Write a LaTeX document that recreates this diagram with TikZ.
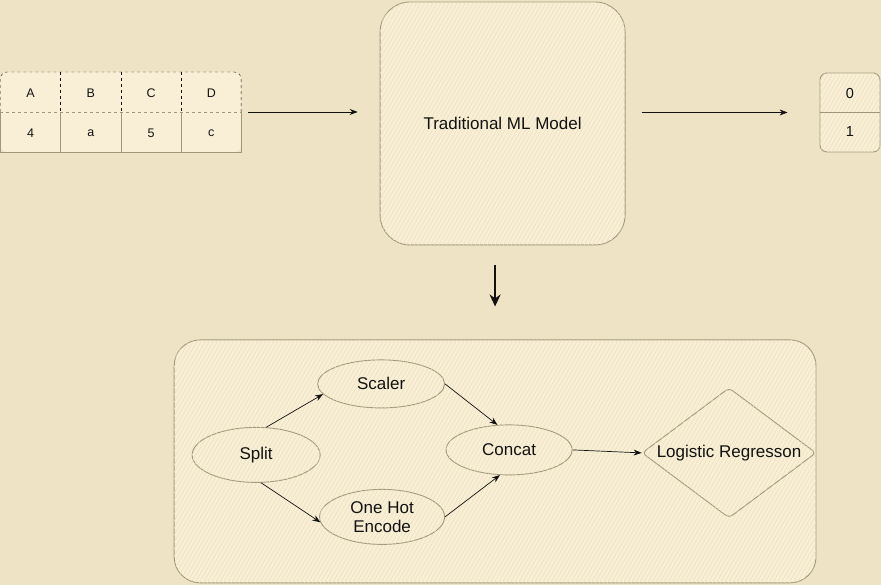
\documentclass[tikz,border=0pt]{standalone}
\usepackage{fontspec}
\setmainfont{Liberation Sans}
\usetikzlibrary{shapes.geometric,arrows.meta,patterns.meta}
\definecolor{paper}{HTML}{EEE4C5}
\definecolor{boxfill}{HTML}{F8EFD6}
\definecolor{hatch}{HTML}{EDE1BE}
\definecolor{edge}{HTML}{A0977A}
\definecolor{ink}{HTML}{121212}

\tikzset{
  sketch/.style={draw=edge, fill=boxfill, line width=0.9pt,
    postaction={pattern={Lines[angle=60,distance=3.5pt,line width=0.6pt]}, pattern color=hatch}},
  stage/.style={sketch, ellipse, inner sep=0, align=center},
  flow/.style={-{Stealth[length=8pt,width=6pt]}, ink, line width=0.7pt},
}

\begin{document}
\begin{tikzpicture}[x=1pt, y=-1pt, every node/.style={font=\fontsize{17}{19}\selectfont, text=ink}]
  \fill[paper] (0,0) rectangle (881,585);

  % input table
  \node (tbl) at (120.5,112) [fill=boxfill, rounded corners=7pt, minimum width=241pt, minimum height=80pt, inner sep=0] {};
  \draw[ink, dashed, rounded corners=7pt] (0,112) -- (0,72) -- (241,72) -- (241,112);
  \draw[edge, dashed] (0,112) -- (241,112);
  \draw[edge] (0,112) -- (0,152) -- (241,152) -- (241,112);
  \foreach \x in {60,121,181} {
    \draw[ink, dashed] (\x,72) -- (\x,112);
    \draw[edge] (\x,112) -- (\x,152);
  }
  \foreach \t [count=\i] in {A,B,C,D}
    \node (h\i) at (-30+60.3*\i,93) [font=\fontsize{12.5}{14}\selectfont] {\t};
  \foreach \t [count=\i] in {4,a,5,c}
    \node (v\i) at (-30+60.3*\i,133) [font=\fontsize{12.5}{14}\selectfont] {\t};

  % model and output
  \node (model) at (502.5,123.5) [sketch, rounded corners=30pt, minimum width=245pt, minimum height=243pt] {Traditional ML Model};
  \node (out) at (850,112.5) [sketch, rounded corners=7pt, minimum width=60pt, minimum height=79pt, inner sep=0] {};
  \draw[edge] (out.west) -- (out.east);
  \node (o0) at (850,94) [font=\fontsize{14.5}{16}\selectfont] {0};
  \node (o1) at (850,132) [font=\fontsize{14.5}{16}\selectfont] {1};

  \draw[flow, shorten <=7pt, shorten >=22pt] (tbl.east) -- (tbl.east -| model.west);
  \draw[flow, shorten <=16pt, shorten >=32pt] (model.east |- out.west) -- (out.west);

  % pipeline
  \node (pipe) at (495,461.5) [sketch, rounded corners=26pt, minimum width=642pt, minimum height=243pt] {};
  \draw[-{Stealth[length=12pt,width=11pt]}, ink, line width=2.2pt, shorten <=20pt, shorten >=33pt] (pipe.north |- model.south) -- (pipe.north);

  \node (split) at (256,455) [stage, minimum width=128pt, minimum height=55pt] {Split};
  \node (scaler) at (381,384) [stage, minimum width=127pt, minimum height=48pt] {Scaler};
  \node (onehot) at (382,517) [stage, minimum width=125pt, minimum height=55pt] {One Hot\\Encode};
  \node (concat) at (509,450) [stage, minimum width=126pt, minimum height=50pt] {Concat};
  \node (lr) at (729,453) [sketch, diamond, rounded corners=4pt, minimum width=174pt, minimum height=130pt, inner sep=0] {};
  \node (lrtext) at (lr) {Logistic Regresson};

  \draw[flow] (split.70) -- (scaler.190);
  \draw[flow] (split.280) -- (onehot.185);
  \draw[flow] (scaler.east) -- (concat.115);
  \draw[flow] (onehot.east) -- (concat.250);
  \draw[flow] (concat.east) -- (lr.west);
\end{tikzpicture}
\end{document}
